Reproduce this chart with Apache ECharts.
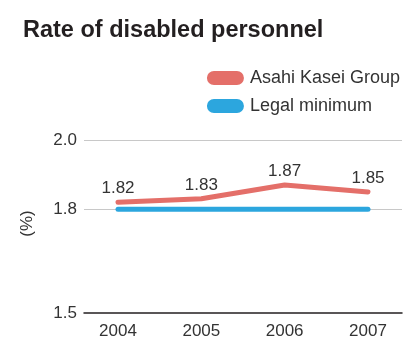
<!DOCTYPE html>
<html><head><meta charset="utf-8">
<script src="https://cdn.jsdelivr.net/npm/echarts@6/dist/echarts.min.js"></script>
<style>html,body{margin:0;padding:0;background:#fff}#c{width:407px;height:340px}</style>
</head><body><div id="c"></div>
<script>
const years = [2004, 2005, 2006, 2007];
const groupRate = [1.82, 1.83, 1.87, 1.85];
const legalMinimum = [1.8, 1.8, 1.8, 1.8];
const yTickLabels = [1.5, 1.8, 2.0];
const seriesNames = ['Asahi Kasei Group', 'Legal minimum'];

const FONT = 'Liberation Sans';
const pill = 'path://M7,0 L30,0 A7,7 0 0 1 30,14 L7,14 A7,7 0 0 1 7,0 Z';
const chart = echarts.init(document.getElementById('c'));
chart.setOption({
  animation: false,
  textStyle: { fontFamily: FONT },
  title: {
    text: 'Rate of disabled personnel', left: 18, top: 14,
    textStyle: { fontFamily: FONT, fontSize: 23.5, fontWeight: 'bold', color: '#231f20' }
  },
  legend: {
    orient: 'vertical', right: 2, top: 64, itemWidth: 37, itemHeight: 14, itemGap: 10,
    icon: pill,
    textStyle: { fontSize: 18, color: '#333', fontFamily: FONT, padding: [0, 0, 0, 1] },
    data: seriesNames
  },
  grid: { left: 84, right: 5, top: 140, bottom: 27 },
  xAxis: {
    type: 'value', min: 2003.592, max: 2007.408,
    axisLine: { show: true, onZero: false, lineStyle: { color: '#231f20', width: 1.5 } },
    axisTick: { show: false },
    splitLine: { show: false },
    axisLabel: { customValues: years, formatter: v => String(v), fontSize: 17, color: '#333', margin: 10 }
  },
  yAxis: {
    type: 'value', min: 1.5, max: 2.0, interval: 0.1,
    name: '(%)', nameLocation: 'middle', nameGap: 48, nameRotate: 90,
    nameTextStyle: { fontSize: 17, color: '#333', padding: [0, 0, 0, 6] },
    axisLine: { show: false }, axisTick: { show: false },
    axisLabel: {
      fontSize: 17, color: '#333', margin: 7,
      formatter: v => { const r = Math.round(v * 10) / 10; return yTickLabels.some(t => Math.abs(t - r) < 1e-6) ? r.toFixed(1) : ''; }
    },
    splitLine: { show: true, lineStyle: { color: ['transparent', 'transparent', 'transparent', '#c8c8c8', 'transparent', '#c8c8c8'], width: 1 } }
  },
  series: [
    {
      name: seriesNames[1], type: 'line', data: years.map((y, i) => [y, legalMinimum[i]]),
      symbol: 'none', z: 3,
      lineStyle: { color: '#2ca6de', width: 5, cap: 'round', join: 'round' },
      itemStyle: { color: '#2ca6de' }
    },
    {
      name: seriesNames[0], type: 'line', data: years.map((y, i) => [y, groupRate[i]]),
      symbol: 'circle', symbolSize: 0.1, z: 4,
      lineStyle: { color: '#e46f69', width: 5, cap: 'round', join: 'round' },
      itemStyle: { color: '#e46f69' },
      label: { show: true, position: 'top', distance: 5, fontSize: 17, color: '#333', formatter: p => p.value[1].toFixed(2) }
    }
  ]
});
</script></body></html>
